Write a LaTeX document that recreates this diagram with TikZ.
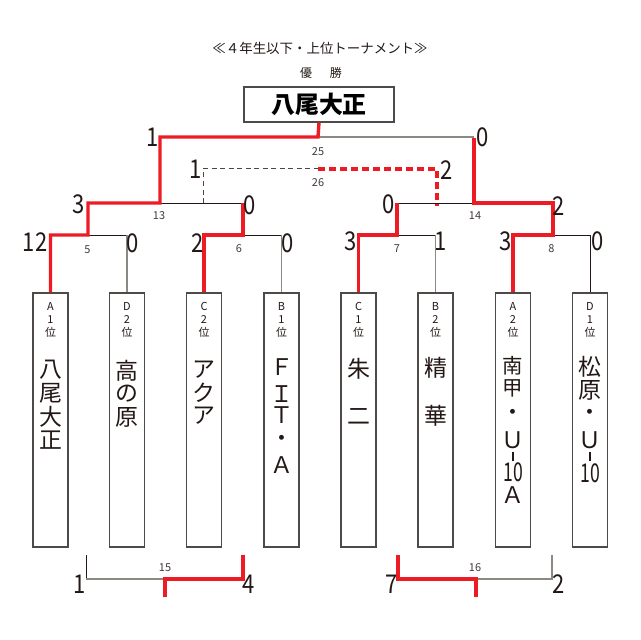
\documentclass[tikz,border=0pt]{standalone}
\usepackage{fontspec}
\setmainfont{Noto Sans CJK JP}
\definecolor{rd}{HTML}{ED1C24}
\definecolor{gl}{HTML}{8C8884}
\definecolor{bk}{HTML}{231815}
\definecolor{boxc}{HTML}{4D4A47}
\newcommand\nd[1]{\scalebox{0.85}[1]{#1}}
\newcommand\vbar{\rule{1.4bp}{9.5bp}}
\tikzset{
  win/.style={draw=rd, line width=3.4bp, line join=miter},
  thin/.style={draw=bk, line width=1bp},
  thing/.style={draw=gl, line width=1.2bp},
  dashg/.style={draw=bk!80, line width=1bp, dash pattern=on 5bp off 3.5bp},
  dashr/.style={draw=rd, line width=3.2bp, dash pattern=on 7bp off 4bp},
  teambox/.style={draw=boxc, line width=1.3bp, minimum width=35bp, minimum height=254bp, inner sep=0},
  champbox/.style={draw=boxc, line width=1.3bp, minimum width=150bp, minimum height=35bp, inner sep=0, font=\fontsize{24}{24}\selectfont\bfseries},
  score/.style={font=\fontsize{26}{26}\selectfont, text=bk, inner sep=0},
  mno/.style={font=\fontsize{11}{11}\selectfont, text=bk!85, inner sep=0},
  lab/.style={font=\fontsize{11}{13}\selectfont, align=center, inner sep=0, anchor=north, text=bk},
  tname/.style={font=\fontsize{23}{23}\selectfont, inner sep=0, text=bk},
  tsmall/.style={font=\fontsize{20.5}{20.5}\selectfont, inner sep=0, text=bk},
  tdig/.style={font=\fontsize{26}{26}\selectfont, inner sep=0, text=bk},
}
\begin{document}
\begin{tikzpicture}[x=1bp,y=-1bp]
\fill[white] (0,0) rectangle (640,640);
\useasboundingbox (0,0) rectangle (640,640);

% title
\node[font=\fontsize{13.5}{14}\selectfont, inner sep=0, text=bk] (title) at (320,48) {≪４年生以下・上位トーナメント≫};
\node[font=\fontsize{12}{12}\selectfont, inner sep=0, text=bk] (yusho) at (321,73) {優\hspace{18bp}勝};
\node[champbox] (champ) at (319,104.5) {八尾大正};

% team boxes
\node[teambox] (t1) at (50.5,420) {};
\node[teambox] (t2) at (127,420) {};
\node[teambox] (t3) at (204,420) {};
\node[teambox] (t4) at (281.5,420) {};
\node[teambox] (t5) at (358.5,420) {};
\node[teambox] (t6) at (435.5,420) {};
\node[teambox] (t7) at (513,420) {};
\node[teambox] (t8) at (590,420) {};

% junctions
\coordinate (j5) at (88,235);
\coordinate (j6) at (243,235);
\coordinate (j7) at (397,235);
\coordinate (j8) at (553,235);
\coordinate (j13) at (160,203);
\coordinate (j14) at (474,203);
\coordinate (j25) at (318,137);
\coordinate (j26l) at (203,169);
\coordinate (j26m) at (318,169);
\coordinate (j26r) at (437,169);
\coordinate (p15l) at (86,555);
\coordinate (p15r) at (243,555);
\coordinate (j15) at (165,579);
\coordinate (p15d) at (165,597);
\coordinate (p16l) at (398,555);
\coordinate (p16r) at (552,555);
\coordinate (j16) at (476,579);
\coordinate (p16d) at (476,597);

% thin lines
\draw[thin] (j5) -- (j5 -| t2.north);
\draw[thing] (j5 -| t2.north) -- (t2.north);
\draw[thin] (j6) -- (j6 -| t4.north);
\draw[thing] (j6 -| t4.north) -- (t4.north);
\draw[thin] (j7) -- (j7 -| t6.north);
\draw[thing] (j7 -| t6.north) -- (t6.north);
\draw[thin] (j8) -| (t8.north);
\draw[thin] (j13) -- (j13 -| j6);
\draw[thin] (j13 -| j7) -- (j14);
\draw[thing] (j25) -- (j25 -| j14);
\draw[dashg] (j26l |- j13) -- (j26l) -- (j26m);
\draw[dashr] (j26m) -- (j26r) -- ([yshift=-3bp]j26r |- j14);
\draw[thin] (p15l) -- (p15l |- j15);
\draw[thing] (p15l |- j15) -- (j15);
\draw[thing] (j16) -| (p16r);

% winning paths
\draw[win] (t1.north) |- (j5) |- (j13) |- (j25) -- (champ.south);
\draw[win] (t3.north) |- (j6) -- (j6 |- j13);
\draw[win] (t5.north) |- (j7) -- (j7 |- j14);
\draw[win] (t7.north) |- (j8) |- (j14) -- ([yshift=-1.5bp]j14 |- j25);
\draw[win] (p15r) |- (j15) -- (p15d);
\draw[win] (p16l) |- (j16) -- (p16d);

% scores
\node[score] (s25l) at (153,137) {\nd{1}};
\node[score] (s25r) at (482.5,137) {\nd{0}};
\node[score] (s26l) at (196,169) {\nd{1}};
\node[score] (s26r) at (447,170) {\nd{2}};
\node[score] (s13l) at (79,204.5) {\nd{3}};
\node[score] (s13r) at (250,205) {\nd{0}};
\node[score] (s14l) at (389,204.5) {\nd{0}};
\node[score] (s14r) at (558.5,206.5) {\nd{2}};
\node[score] (s5l) at (35,242) {\nd{12}};
\node[score] (s5r) at (133,243) {\nd{0}};
\node[score] (s6l) at (198,243) {\nd{2}};
\node[score] (s6r) at (288,243) {\nd{0}};
\node[score] (s7l) at (351,241) {\nd{3}};
\node[score] (s7r) at (440.5,241) {\nd{1}};
\node[score] (s8l) at (506,241) {\nd{3}};
\node[score] (s8r) at (598,241) {\nd{0}};
\node[score] (s15l) at (79.5,584) {\nd{1}};
\node[score] (s15r) at (249,584) {\nd{4}};
\node[score] (s16l) at (391.5,584) {\nd{7}};
\node[score] (s16r) at (559,584) {\nd{2}};

% match numbers
\node[mno] (m25) at (318,151.5) {25};
\node[mno] (m26) at (318,182.5) {26};
\node[mno] (m13) at (159,216) {13};
\node[mno] (m14) at (475,216) {14};
\node[mno] (m5) at (87.5,249.5) {5};
\node[mno] (m6) at (239,249) {6};
\node[mno] (m7) at (397,249) {7};
\node[mno] (m8) at (551.5,249) {8};
\node[mno] (m15) at (165,568) {15};
\node[mno] (m16) at (475,568) {16};

% box labels
\node[lab] (l1) at (50.5,302) {A\\1\\位};
\node[lab] (l2) at (127,302) {D\\2\\位};
\node[lab] (l3) at (204,302) {C\\2\\位};
\node[lab] (l4) at (281.5,302) {B\\1\\位};
\node[lab] (l5) at (358.5,302) {C\\1\\位};
\node[lab] (l6) at (435.5,302) {B\\2\\位};
\node[lab] (l7) at (513,302) {A\\2\\位};
\node[lab] (l8) at (590,302) {D\\1\\位};

% team names (vertical)
\node[tname] (n1a) at (50.5,369.5) {八};
\node[tname] (n1b) at (50.5,393) {尾};
\node[tname] (n1c) at (50.5,416.5) {大};
\node[tname] (n1d) at (50.5,440) {正};
\node[tname] (n2a) at (127,370.5) {高};
\node[tname] (n2b) at (127,394) {の};
\node[tname] (n2c) at (127,417.5) {原};
\node[tname] (n3a) at (204,369.5) {ア};
\node[tname] (n3b) at (204,393) {ク};
\node[tname] (n3c) at (204,416) {ア};
\node[tname] (n4a) at (281.5,367) {Ｆ};
\node[tname] (n4b) at (281.5,394) {Ｉ};
\node[tname] (n4c) at (281.5,415.5) {Ｔ};
\node[tname] (n4d) at (281.5,440.5) {・};
\node[tname] (n4e) at (281.5,465) {Ａ};
\node[tname] (n5a) at (358.5,369) {朱};
\node[tname] (n5b) at (358.5,416.5) {二};
\node[tname] (n6a) at (435.5,367.5) {精};
\node[tname] (n6b) at (435.5,416) {華};
\node[tsmall] (n7a) at (513,366) {南};
\node[tsmall] (n7b) at (513,388) {甲};
\node[tname] (n7c) at (513,415) {・};
\node[tname] (n7d) at (513,440) {Ｕ};
\node[tname] (n7e) at (513,456.5) {\vbar};
\node[tdig] (n7f) at (513,472.5) {\scalebox{0.68}[1]{10}};
\node[tname] (n7g) at (513,495) {Ａ};
\node[tname] (n8a) at (590,366.5) {松};
\node[tname] (n8b) at (590,390) {原};
\node[tname] (n8c) at (590,415) {・};
\node[tname] (n8d) at (590,440) {Ｕ};
\node[tname] (n8e) at (590,456.5) {\vbar};
\node[tdig] (n8f) at (590,473.5) {\scalebox{0.68}[1]{10}};
\end{tikzpicture}
\end{document}
